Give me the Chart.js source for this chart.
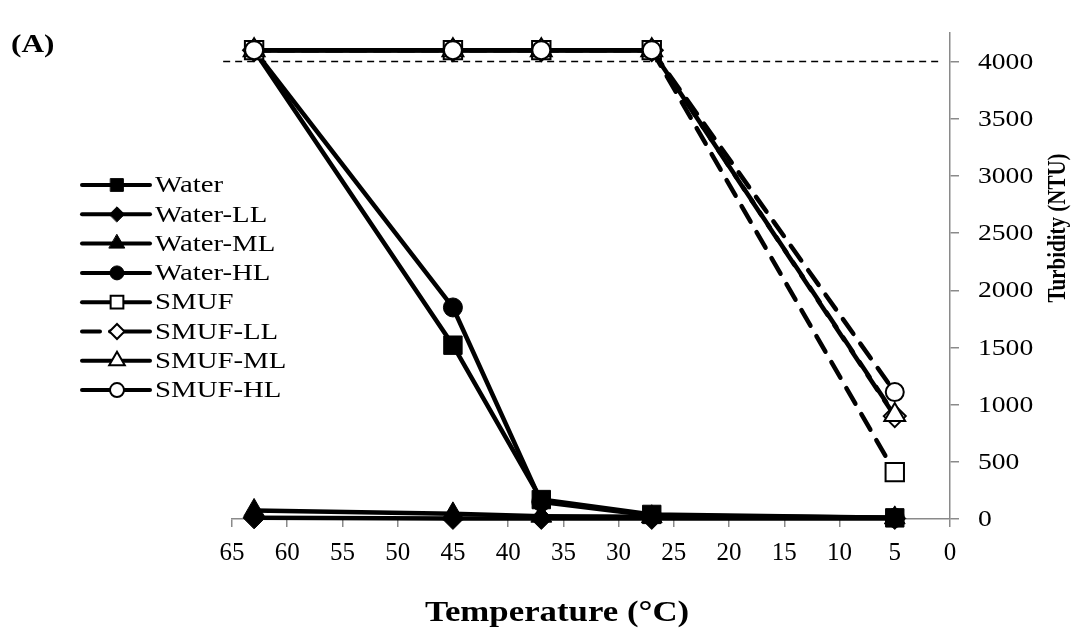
<!DOCTYPE html>
<html>
<head>
<meta charset="utf-8">
<script src="https://cdn.jsdelivr.net/npm/chart.js@4.4.1/dist/chart.umd.min.js"></script>
<style>
  html, body { margin: 0; padding: 0; background: #fff; }
  #wrap { width: 1075px; height: 639px; }
</style>
</head>
<body>
<div id="wrap"><canvas id="grafico"></canvas></div>
<script>
// Temperaturas medidas (°C) y turbidez (NTU) de cada muestra
const temperaturas = [63, 45, 37, 27, 5];
const water   = [4100, 1520, 170, 40, 10];
const waterLL = [10, 5, 5, 5, 5];
const waterML = [75, 45, 25, 20, 10];
const waterHL = [4100, 1850, 150, 30, 10];
const smuf    = [4100, 4100, 4100, 4100, 410];
const smufLL  = [4100, 4100, 4100, 4100, 900];
const smufML  = [4100, 4100, 4100, 4100, 910];
const smufHL  = [4100, 4100, 4100, 4100, 1110];
// Línea de referencia (límite del turbidímetro)
const limiteX = [65.8, 0.9];
const limiteY = 4000;
const ticksY = [0, 500, 1000, 1500, 2000, 2500, 3000, 3500, 4000];

const fuente = '"Liberation Serif", "Times New Roman", serif';
// El texto del original está algo ensanchado horizontalmente
const ancho = 1.2;

function puntos(valores) {
    return temperaturas.map((t, i) => ({ x: t, y: valores[i] }));
}

// Tramo final (27 -> 5 °C) discontinuo en las series SMUF
const tramoFinal = {
    borderDash: ctx => ctx.p1DataIndex === 4 ? [18, 12] : undefined
};

function serie(label, valores, estilo, relleno, radio, extra) {
    return Object.assign({
        label: label,
        data: puntos(valores),
        borderColor: '#000',
        borderWidth: 4.5,
        pointStyle: estilo,
        pointRadius: radio,
        pointBackgroundColor: relleno ? '#000' : '#fff',
        pointBorderColor: '#000',
        pointBorderWidth: relleno ? 1 : 2,
        borderCapStyle: 'round',
        tension: 0,
        fill: false,
        clip: false
    }, extra || {});
}

const series = [
    serie('Water', water, 'rect', true, 13),
    serie('Water-LL', waterLL, 'rectRot', true, 11),
    serie('Water-ML', waterML, 'triangle', true, 12),
    serie('Water-HL', waterHL, 'circle', true, 9.5),
    serie('SMUF', smuf, 'rect', false, 13, { segment: tramoFinal }),
    serie('SMUF-LL', smufLL, 'rectRot', false, 11, { borderDash: [16, 8], segment: tramoFinal, legendDash: [18, 10, 60, 10] }),
    serie('SMUF-ML', smufML, 'triangle', false, 12, { segment: { borderDash: ctx => ctx.p1DataIndex === 4 ? [18, 12] : undefined, borderDashOffset: () => 15 } }),
    serie('SMUF-HL', smufHL, 'circle', false, 9, { segment: tramoFinal })
];
// Las últimas series se dibujan encima (como en Excel)
series.forEach((s, i) => { s.order = series.length - i; s.enLeyenda = true; s.legendRadius = [9, 7.5, 9, 7, 9, 7.5, 9, 7][i]; });

series.push({
    label: 'limite',
    data: limiteX.map(x => ({ x: x, y: limiteY })),
    borderColor: '#000',
    borderWidth: 1.5,
    borderDash: [7, 5],
    pointRadius: 0,
    clip: false,
    order: 100
});

function textoAncho(ctx, texto, x, y) {
    ctx.save();
    ctx.translate(x, y);
    ctx.scale(ancho, 1);
    ctx.fillText(texto, 0, 0);
    ctx.restore();
}

// Leyenda, etiquetas del eje Y, títulos y rótulo (A) dibujados a mano
const decorado = {
    id: 'decorado',
    afterDraw(chart) {
        const ctx = chart.ctx;
        ctx.save();
        chart.data.datasets.forEach((ds, i) => {
            if (!ds.enLeyenda) return;
            const y = 185 + i * 29.3;
            ctx.strokeStyle = '#000';
            ctx.lineWidth = 4;
            ctx.lineCap = 'round';
            ctx.setLineDash(ds.legendDash || []);
            ctx.beginPath();
            ctx.moveTo(82, y);
            ctx.lineTo(150, y);
            ctx.stroke();
            ctx.setLineDash([]);
            ctx.fillStyle = ds.pointBackgroundColor;
            ctx.lineWidth = ds.pointBorderWidth;
            Chart.helpers.drawPoint(ctx, {
                pointStyle: ds.pointStyle,
                radius: ds.legendRadius,
                borderWidth: ds.pointBorderWidth,
                rotation: 0
            }, 117, y);
            ctx.fillStyle = '#000';
            ctx.font = '24px ' + fuente;
            ctx.textAlign = 'left';
            ctx.textBaseline = 'middle';
            textoAncho(ctx, ds.label, 155, y + 1);
        });
        ctx.fillStyle = '#000';
        ctx.textBaseline = 'middle';
        ctx.textAlign = 'left';
        // etiquetas del eje Y
        const escalaY = chart.scales.y;
        ctx.font = '23px ' + fuente;
        ticksY.forEach(v => textoAncho(ctx, String(v), 978, escalaY.getPixelForValue(v) + 1));
        ctx.font = 'bold 26px ' + fuente;
        textoAncho(ctx, '(A)', 11, 45);
        ctx.textAlign = 'center';
        ctx.font = 'bold 29px ' + fuente;
        textoAncho(ctx, 'Temperature (°C)', 557, 614);
        ctx.font = 'bold 21px ' + fuente;
        ctx.translate(1058, 228);
        ctx.rotate(-Math.PI / 2);
        ctx.scale(1, ancho);
        ctx.fillText('Turbidity (NTU)', 0, 0);
        ctx.restore();
    }
};

const ctx = document.getElementById('grafico').getContext('2d');
const grafico = new Chart(ctx, {
    type: 'line',
    data: { datasets: series },
    plugins: [decorado],
    options: {
        responsive: true,
        maintainAspectRatio: false,
        animation: false,
        layout: { padding: { left: 232, top: 33, right: 0, bottom: 0 } },
        plugins: {
            legend: { display: false },
            tooltip: { enabled: false }
        },
        scales: {
            x: {
                type: 'linear',
                reverse: true,
                min: 0,
                max: 65,
                afterFit: s => { s.height = 120; },
                border: { display: true, color: '#8a8a8a', width: 1.5 },
                grid: { display: true, drawOnChartArea: false, drawTicks: true, tickLength: 8, color: '#8a8a8a', lineWidth: 1.5 },
                ticks: {
                    stepSize: 5,
                    color: '#000',
                    padding: 11,
                    maxRotation: 0,
                    font: { family: fuente, size: 25 }
                }
            },
            y: {
                type: 'linear',
                position: 'right',
                min: 0,
                max: 4250,
                afterFit: s => { s.width = 125; },
                afterBuildTicks: s => { s.ticks = ticksY.map(v => ({ value: v })); },
                border: { display: true, color: '#8a8a8a', width: 1.5 },
                grid: { display: true, drawOnChartArea: false, drawTicks: true, tickLength: 9, color: '#8a8a8a', lineWidth: 1.5 },
                ticks: { display: false }
            }
        }
    }
});
</script>
</body>
</html>
